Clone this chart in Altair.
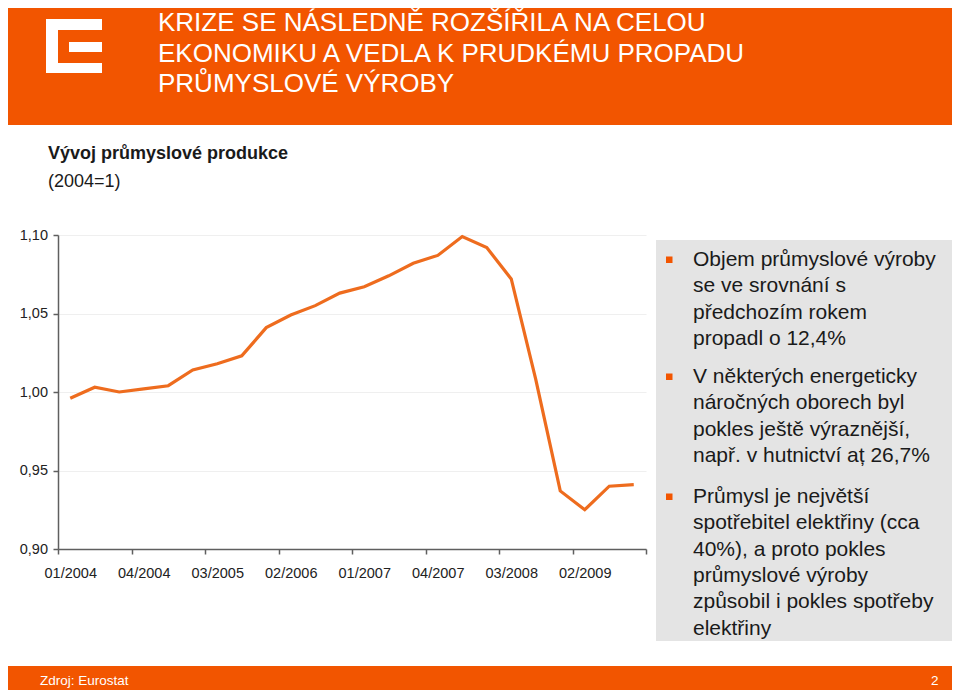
import altair as alt
import pandas as pd

# ---------------- data ----------------
quarters = [f"{q:02d}/{y}" for y in range(2004, 2010) for q in range(1, 5)]
values = [0.996, 1.003, 1.000, 1.002, 1.004, 1.014, 1.018, 1.023,
          1.041, 1.049, 1.055, 1.063, 1.067, 1.074, 1.082, 1.087,
          1.099, 1.092, 1.072, 1.008, 0.937, 0.925, 0.940, 0.941]
tick_labels = ["01/2004", "04/2004", "03/2005", "02/2006",
               "01/2007", "04/2007", "03/2008", "02/2009"]
y_ticks = [0.90, 0.95, 1.00, 1.05, 1.10]

title_lines = ["KRIZE SE NÁSLEDNĚ ROZŠÍŘILA NA CELOU",
               "EKONOMIKU A VEDLA K PRUDKÉMU PROPADU",
               "PRŮMYSLOVÉ VÝROBY"]
subtitle = "Vývoj průmyslové produkce"
subtitle2 = "(2004=1)"
para1 = ["Objem průmyslové výroby", "se ve srovnání s",
         "předchozím rokem", "propadl o 12,4%"]
para2 = ["V některých energeticky", "náročných oborech byl",
         "pokles ještě výraznější,", "např. v hutnictví aț 26,7%"]
para3 = ["Průmysl je největší", "spotřebitel elektřiny (cca",
         "40%), a proto pokles", "průmyslové výroby",
         "způsobil i pokles spotřeby", "elektřiny"]
source = "Zdroj: Eurostat"
page_no = "2"

df = pd.DataFrame({"quarter": quarters, "idx": range(len(quarters)), "value": values})
df["pos"] = df["idx"] + 0.5

# ---------------- style ----------------
ORANGE = "#F25500"
LINE = "#EE6C1E"
FONT = "Liberation Sans"
W, H = 588, 314
one = alt.Data(values=[{"k": 1}])


def rect(x1, x2, y1, y2, color):
    return alt.Chart(one).mark_rect(color=color).encode(
        x=alt.value(x1), x2=alt.value(x2), y=alt.value(y1), y2=alt.value(y2))


def text(lines, x, y, size, color, weight="normal", lh=None, font=FONT, align="left"):
    kw = dict(text=lines, align=align, baseline="alphabetic", fontSize=size,
              font=font, color=color, fontWeight=weight)
    if lh is not None:
        kw["lineHeight"] = lh
    return alt.Chart(one).mark_text(**kw).encode(x=alt.value(x), y=alt.value(y))


layers = []
# header band and logo
layers.append(rect(-70, 910, -250, -110, ORANGE))
layers.append(rect(-12, 44, -216, -205, "white"))
layers.append(rect(-12, 0, -216, -162, "white"))
layers.append(rect(11, 44, -193, -183, "white"))
layers.append(rect(-12, 44, -172, -162, "white"))
layers.append(text(title_lines, 100, -204, 26, "white", lh=30.5))
# subtitle
layers.append(text(subtitle, -10, -76, 18, "#1a1a1a", weight="bold"))
layers.append(text(subtitle2, -10, -48, 18, "#1a1a1a"))
# right panel
layers.append(rect(598, 897, 5, 406, "#E4E4E4"))
for py, para in [(31, para1), (148, para2), (268, para3)]:
    layers.append(rect(608, 614.5, py - 9.5, py - 3, ORANGE))
    layers.append(text(para, 635, py, 21, "#1a1a1a", lh=26.3))
# footer
layers.append(rect(-70, 910, 431, 470, ORANGE))
layers.append(text(source, -18, 450, 13.5, "white",
                   font="Liberation Sans Narrow, Liberation Sans"))
layers.append(text(page_no, 873, 450, 13.5, "white"))

# data line
label_expr = "[" + ",".join(f"'{t}'" for t in tick_labels + [""]) + "][round(datum.value/3)]"
line = alt.Chart(df).mark_line(color=LINE, strokeWidth=3.2).encode(
    x=alt.X("pos:Q",
            scale=alt.Scale(domain=[0, len(quarters)], nice=False, zero=False),
            axis=alt.Axis(values=list(range(0, len(quarters) + 1, 3)), labelExpr=label_expr,
                          title=None, grid=False, labelOffset=12.25, labelAlign="center",
                          labelBaseline="alphabetic", labelPadding=23, tickSize=5,
                          labelFlush=False, labelOverlap=False)),
    y=alt.Y("value:Q",
            scale=alt.Scale(domain=[0.90, 1.10], nice=False, zero=False),
            axis=alt.Axis(values=y_ticks, title=None, tickSize=5, labelPadding=5.5,
                          labelExpr="replace(format(datum.value, '.2f'), '.', ',')",
                          grid=True, gridColor="#EFEFEF", gridWidth=1)),
)
layers.append(line)

chart = alt.layer(*layers).properties(
    width=W, height=H,
    autosize=alt.AutoSizeParams(type="none"),
    padding={"left": 50, "top": 227, "right": 306, "bottom": 141},
    background="white",
).configure_view(stroke=None).configure_axis(
    domainColor="#5F5F5F", domainWidth=1.5, tickColor="#5F5F5F", tickWidth=1.5,
    labelFont=FONT, labelFontSize=14.5, labelColor="#222222",
)

chart.save("out.html", embed_options={"renderer": "svg", "actions": False})
